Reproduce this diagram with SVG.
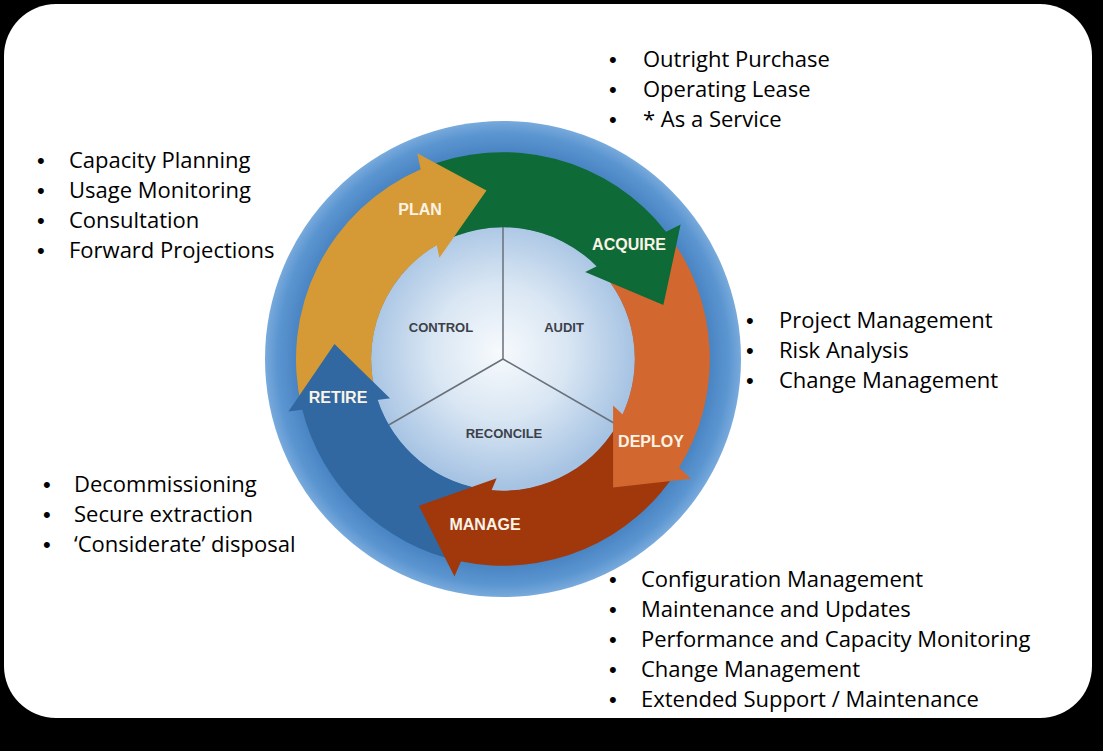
<svg xmlns="http://www.w3.org/2000/svg" width="1103" height="751" viewBox="0 0 1103 751">
<defs>
<radialGradient id="ringGrad" gradientUnits="userSpaceOnUse" cx="503" cy="359" r="238">
<stop offset="0.85" stop-color="#4580c0"/>
<stop offset="0.95" stop-color="#5c96d1"/>
<stop offset="1" stop-color="#78aadc"/>
</radialGradient>
<radialGradient id="coreGrad" gradientUnits="userSpaceOnUse" cx="500" cy="352" r="135">
<stop offset="0" stop-color="#f7fafd"/>
<stop offset="0.5" stop-color="#d9e6f3"/>
<stop offset="1" stop-color="#a6c3e3"/>
</radialGradient>
<style>
.list{font-family:"Open Sans","Liberation Sans",sans-serif;font-size:22px;fill:#000}
.bul{font-family:"Liberation Sans",Arial,sans-serif;font-size:22px;fill:#000}
.inner{font-family:"Liberation Sans",Arial,sans-serif;font-weight:bold;font-size:13px;fill:#3c4149;text-anchor:middle}
.lbl{font-family:"Liberation Sans",Arial,sans-serif;font-weight:bold;font-size:16px;fill:#fbf3e6;text-anchor:middle}
.div{stroke:#68707a;stroke-width:1.5;fill:none}
.head{stroke-width:1.6;stroke-linejoin:miter}
</style>
</defs>
<rect x="0" y="0" width="1103" height="751" fill="#000"/>
<rect x="4" y="4" width="1088" height="714" rx="52" ry="52" fill="#fff"/>

<g id="wheel">
<circle cx="503" cy="359" r="238" fill="url(#ringGrad)"/>
<circle cx="503" cy="359" r="132" fill="url(#coreGrad)"/>
</g>

<g id="connectors">
<path class="div" d="M503,359 L503,227 M503,359 L617.3,425 M503,359 L388.7,425"/>
</g>

<g id="node-control"><text class="inner" x="441" y="332">CONTROL</text></g>
<g id="node-audit"><text class="inner" x="564" y="332">AUDIT</text></g>
<g id="node-reconcile"><text class="inner" x="504" y="438">RECONCILE</text></g>

<g id="node-plan">
<path fill="#d59a35" d="M302.1,409.0 A207,207 0 0 1 421.4,168.9 L437.4,244.7 A132,132 0 0 0 377.4,399.2 Z"/>
</g>
<g id="node-acquire">
<path fill="#0e6a37" d="M421.4,168.9 A207,207 0 0 1 666.6,232.4 L597.3,266.9 A132,132 0 0 0 437.4,244.7 Z"/>
</g>
<g id="node-deploy">
<path fill="#d2682f" d="M666.6,232.4 A207,207 0 0 1 678.7,468.2 L622.2,415.2 A132,132 0 0 0 597.3,266.9 Z"/>
</g>
<g id="node-manage">
<path fill="#a0380c" d="M678.7,468.2 A207,207 0 0 1 460.1,561.3 L490.7,490.1 A132,132 0 0 0 622.2,415.2 Z"/>
</g>
<g id="node-retire">
<path fill="#3168a2" d="M460.1,561.3 A207,207 0 0 1 302.1,409.0 L377.4,399.2 A132,132 0 0 0 490.7,490.1 Z"/>
</g>

<g id="heads">
<polygon class="head" fill="#d59a35" stroke="#d59a35" points="439.8,255.8 418.4,154.8 485.3,190.9"/>
<polygon class="head" fill="#0e6a37" stroke="#0e6a37" points="587.1,272.0 679.5,226.0 662.8,304.0"/>
<polygon class="head" fill="#d2682f" stroke="#d2682f" points="613.9,407.4 689.2,478.1 613.9,486.5"/>
<polygon class="head" fill="#a0380c" stroke="#a0380c" points="495.2,479.7 454.4,574.6 420.0,506.2"/>
<polygon class="head" fill="#3168a2" stroke="#3168a2" points="388.4,397.8 290.1,410.5 334.6,345.2"/>
</g>

<g id="labels">
<text class="lbl" x="420" y="215">PLAN</text>
<text class="lbl" x="629" y="250">ACQUIRE</text>
<text class="lbl" x="651" y="447">DEPLOY</text>
<text class="lbl" x="485" y="530">MANAGE</text>
<text class="lbl" x="338" y="403">RETIRE</text>
</g>

<g id="list-plan" class="list">
<text class="bul" x="37" y="168">•</text><text x="69" y="168">Capacity Planning</text>
<text class="bul" x="37" y="198">•</text><text x="69" y="198">Usage Monitoring</text>
<text class="bul" x="37" y="228">•</text><text x="69" y="228">Consultation</text>
<text class="bul" x="37" y="258">•</text><text x="69" y="258">Forward Projections</text>
</g>
<g id="list-acquire" class="list">
<text class="bul" x="609" y="67">•</text><text x="643" y="67">Outright Purchase</text>
<text class="bul" x="609" y="97">•</text><text x="643" y="97">Operating Lease</text>
<text class="bul" x="609" y="127">•</text><text x="643" y="127">* As a Service</text>
</g>
<g id="list-deploy" class="list">
<text class="bul" x="746" y="328">•</text><text x="779" y="328">Project Management</text>
<text class="bul" x="746" y="358">•</text><text x="779" y="358">Risk Analysis</text>
<text class="bul" x="746" y="388">•</text><text x="779" y="388">Change Management</text>
</g>
<g id="list-retire" class="list">
<text class="bul" x="43" y="492">•</text><text x="74" y="492">Decommissioning</text>
<text class="bul" x="43" y="522">•</text><text x="74" y="522">Secure extraction</text>
<text class="bul" x="43" y="552">•</text><text x="74" y="552">‘Considerate’ disposal</text>
</g>
<g id="list-manage" class="list">
<text class="bul" x="609" y="587">•</text><text x="641" y="587">Configuration Management</text>
<text class="bul" x="609" y="617">•</text><text x="641" y="617">Maintenance and Updates</text>
<text class="bul" x="609" y="647">•</text><text x="641" y="647">Performance and Capacity Monitoring</text>
<text class="bul" x="609" y="677">•</text><text x="641" y="677">Change Management</text>
<text class="bul" x="609" y="707">•</text><text x="641" y="707">Extended Support / Maintenance</text>
</g>
</svg>
